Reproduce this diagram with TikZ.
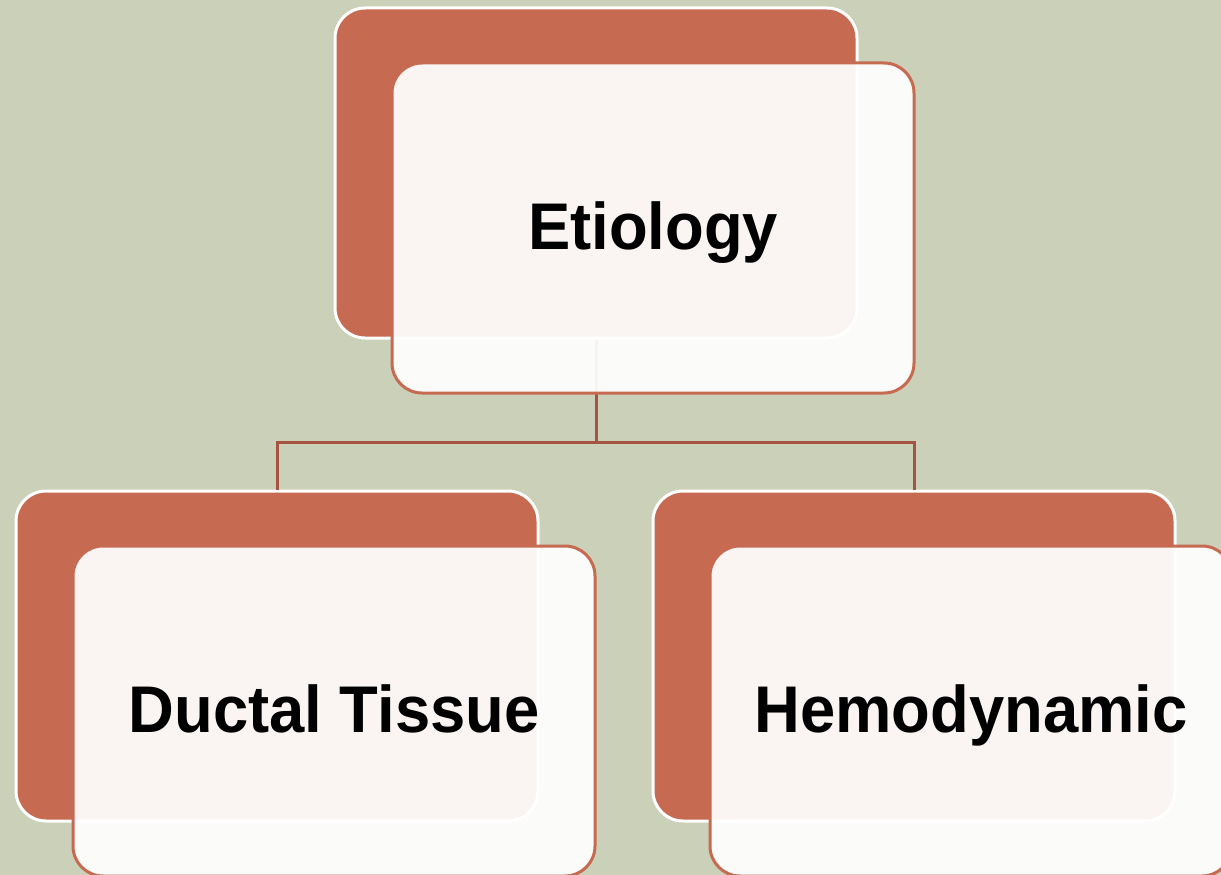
\documentclass[tikz,border=0pt]{standalone}
\usepackage{fontspec}
\newfontfamily\cardfont{Liberation Sans}[FakeStretch=0.96]

\definecolor{sage}{RGB}{203,209,185}
\definecolor{rust}{RGB}{198,106,82}
\definecolor{linkbrown}{RGB}{166,84,66}

\begin{document}
\begin{tikzpicture}[x=1pt, y=-1pt,
    backcard/.style={rectangle, rounded corners=30pt, fill=rust, draw=white,
        line width=3pt, minimum width=522pt, minimum height=330pt, inner sep=0pt},
    frontcard/.style={rectangle, rounded corners=30pt, fill=white, fill opacity=0.93,
        text opacity=1, draw=rust, line width=3pt, minimum width=522pt,
        minimum height=330pt, inner sep=0pt, text height=42pt, text depth=0pt,
        font=\cardfont\bfseries\fontsize{66}{72}\selectfont},
    link/.style={draw=linkbrown, line width=3pt}]

    % Canvas
    \useasboundingbox (0,0) rectangle (1221,875);
    \clip (0,0) rectangle (1221,875);
    \fill[sage] (0,0) rectangle (1221,875);

    % Back cards
    \foreach \nm/\cx/\cy in {eti/596/173, duct/277/656, hemo/914/656} {
        \node[backcard] (\nm B) at (\cx,\cy) {};
    }

    % Connector
    \draw[link] (etiB.south) -- ++(0,103) coordinate (hub) -| (ductB.north);
    \draw[link] (hub) -| (hemoB.north);

    % Front cards
    \foreach \nm/\txt in {eti/Etiology, duct/Ductal Tissue, hemo/Hemodynamic} {
        \node[frontcard] (\nm F) at ([shift={(57,55)}]\nm B.center) {\txt};
    }
\end{tikzpicture}
\end{document}
